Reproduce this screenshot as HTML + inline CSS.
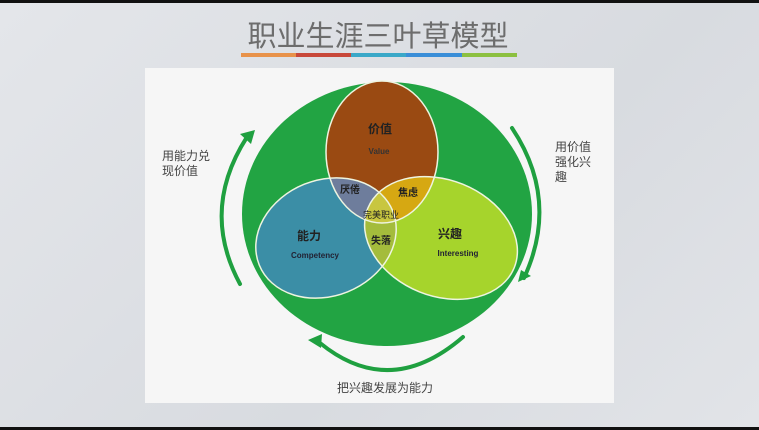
<!DOCTYPE html>
<html><head><meta charset="utf-8"><style>
body{margin:0;width:759px;height:430px;overflow:hidden;background:linear-gradient(135deg,#e4e6ea,#d8dbe0 60%,#e2e4e8);font-family:"Liberation Sans","Noto Sans CJK SC",sans-serif}
</style></head><body>
<svg width="759" height="430" viewBox="0 0 759 430" xmlns="http://www.w3.org/2000/svg" style="position:absolute;left:0;top:0">
<defs>
<clipPath id="cv"><ellipse cx="382" cy="152" rx="56" ry="71"/></clipPath>
<clipPath id="cc"><ellipse cx="326" cy="238" rx="72" ry="58" transform="rotate(-22 326 238)"/></clipPath>
<clipPath id="ci"><ellipse cx="441" cy="238" rx="79" ry="58" transform="rotate(22 441 238)"/></clipPath>
</defs>
<rect x="0" y="0" width="759" height="3" fill="#111"/>
<rect x="0" y="427" width="759" height="3" fill="#111"/>
<text x="378" y="46" text-anchor="middle" font-size="29" fill="#6d6d6d" font-family="Liberation Sans,Noto Sans CJK SC,sans-serif">职业生涯三叶草模型</text>
<rect x="241" y="53" width="55" height="4" fill="#e8924a"/>
<rect x="296" y="53" width="55" height="4" fill="#c8483a"/>
<rect x="351" y="53" width="55" height="4" fill="#3aa8c8"/>
<rect x="406" y="53" width="56" height="4" fill="#3a8ed8"/>
<rect x="462" y="53" width="55" height="4" fill="#8cc040"/>
<rect x="145" y="68" width="469" height="335" fill="#f6f6f6"/>
<ellipse cx="387" cy="214" rx="145" ry="132" fill="#22a443"/>
<ellipse cx="382" cy="152" rx="56" ry="71" fill="#9a4a12"/>
<ellipse cx="326" cy="238" rx="72" ry="58" transform="rotate(-22 326 238)" fill="#3b8ea6"/>
<ellipse cx="441" cy="238" rx="79" ry="58" transform="rotate(22 441 238)" fill="#a6d42c"/>
<g clip-path="url(#cv)"><ellipse cx="326" cy="238" rx="72" ry="58" transform="rotate(-22 326 238)" fill="#6e7d9c"/><ellipse cx="441" cy="238" rx="79" ry="58" transform="rotate(22 441 238)" fill="#d6a812"/></g>
<g clip-path="url(#cc)"><ellipse cx="441" cy="238" rx="79" ry="58" transform="rotate(22 441 238)" fill="#a4bc3c"/></g>
<g clip-path="url(#cv)"><g clip-path="url(#cc)"><ellipse cx="441" cy="238" rx="79" ry="58" transform="rotate(22 441 238)" fill="#c8c640"/></g></g>
<g fill="none" stroke="#eef4e0" stroke-width="1.5">
<ellipse cx="382" cy="152" rx="56" ry="71"/>
<ellipse cx="326" cy="238" rx="72" ry="58" transform="rotate(-22 326 238)"/>
<ellipse cx="441" cy="238" rx="79" ry="58" transform="rotate(22 441 238)"/>
</g>
<g font-family="Liberation Sans,Noto Sans CJK SC,sans-serif" font-weight="bold" fill="#222" text-anchor="middle">
<text x="380" y="133" font-size="12">价值</text>
<text x="379" y="154" font-size="8" fill="#333">Value</text>
<text x="350" y="193" font-size="10">厌倦</text>
<text x="408" y="196" font-size="10">焦虑</text>
<text x="381" y="218" font-size="9" font-weight="normal">完美职业</text>
<text x="381" y="244" font-size="10">失落</text>
<text x="309" y="240" font-size="12">能力</text>
<text x="315" y="258" font-size="8" fill="#223">Competency</text>
<text x="450" y="238" font-size="12">兴趣</text>
<text x="458" y="256" font-size="8" fill="#223">Interesting</text>
</g>
<g fill="none" stroke="#1fa040" stroke-width="4" stroke-linecap="round">
<path d="M247 137 Q200 210 240 284"/>
<path d="M512 128 Q560 200 524 278"/>
<path d="M320 343 Q390 400 463 337"/>
</g>
<g fill="#1fa040">
<polygon points="255,130 240,134 251,144"/>
<polygon points="518,282 521,270 531,276"/>
<polygon points="308,340 322,334 321,348"/>
</g>
<g font-family="Liberation Sans,Noto Sans CJK SC,sans-serif" font-size="12" fill="#444">
<text x="162" y="160">用能力兑</text>
<text x="162" y="175">现价值</text>
<text x="555" y="151">用价值</text>
<text x="555" y="166">强化兴</text>
<text x="555" y="181">趣</text>
<text x="337" y="392">把兴趣发展为能力</text>
</g>
</svg>
</body></html>
